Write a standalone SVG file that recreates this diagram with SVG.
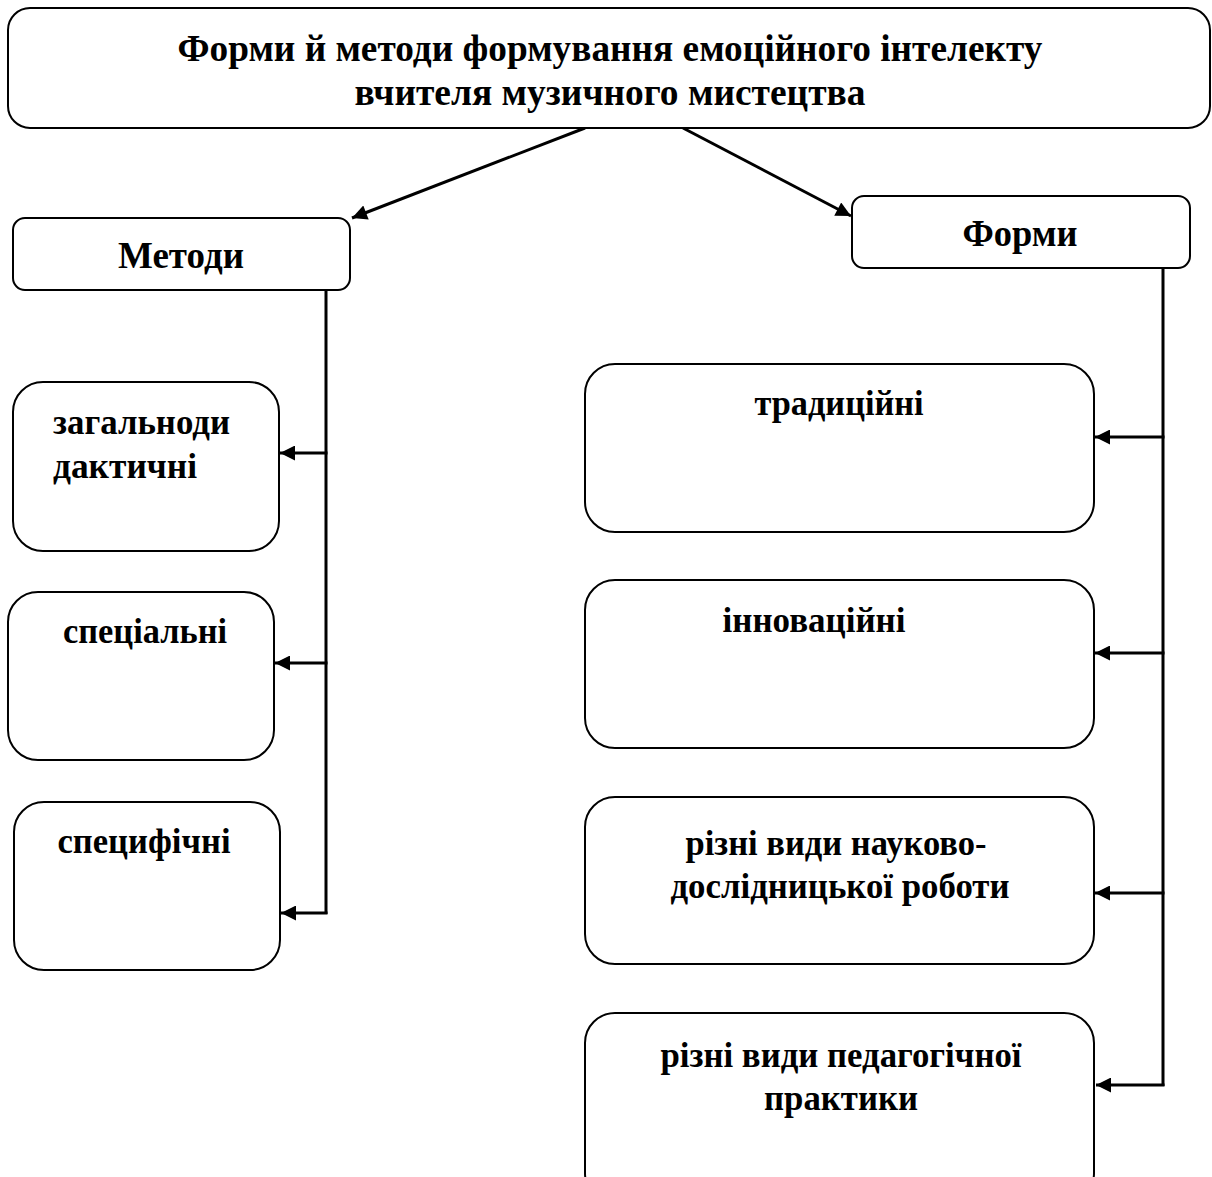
<svg xmlns="http://www.w3.org/2000/svg" width="1212" height="1177" viewBox="0 0 1212 1177">
<style>
.box{fill:#fff;stroke:#000;stroke-width:2}
.t{font-family:"Liberation Serif","Times New Roman",serif;font-weight:bold;fill:#000;text-anchor:middle}
.tl{font-family:"Liberation Serif","Times New Roman",serif;font-weight:bold;fill:#000}
.c{fill:none;stroke:#000;stroke-width:3}
</style>
<defs>
<marker id="ah" viewBox="0 0 10 10" refX="10" refY="5" markerUnits="userSpaceOnUse" markerWidth="20" markerHeight="15" orient="auto">
<path d="M0,0 L10,5 L0,10 z" fill="#000"/>
</marker>
</defs>
<rect width="1212" height="1177" fill="#fff"/>
<g id="connectors">
<line class="c" x1="585" y1="128" x2="352" y2="218" marker-end="url(#ah)"/>
<line class="c" x1="683" y1="128" x2="851" y2="216" marker-end="url(#ah)"/>
<line class="c" x1="326" y1="291" x2="326" y2="914"/>
<line class="c" x1="327.5" y1="453" x2="280" y2="453" marker-end="url(#ah)"/>
<line class="c" x1="327.5" y1="663" x2="275" y2="663" marker-end="url(#ah)"/>
<line class="c" x1="327.5" y1="913" x2="281" y2="913" marker-end="url(#ah)"/>
<line class="c" x1="1163" y1="268" x2="1163" y2="1086"/>
<line class="c" x1="1164.5" y1="437" x2="1095" y2="437" marker-end="url(#ah)"/>
<line class="c" x1="1164.5" y1="653" x2="1095" y2="653" marker-end="url(#ah)"/>
<line class="c" x1="1164.5" y1="893" x2="1095" y2="893" marker-end="url(#ah)"/>
<line class="c" x1="1164.5" y1="1085" x2="1096" y2="1085" marker-end="url(#ah)"/>
</g>
<g id="title">
<rect class="box" x="8" y="8" width="1202" height="120" rx="22"/>
<text class="t" x="610" y="61" font-size="38" textLength="865" lengthAdjust="spacingAndGlyphs">Форми й методи формування емоційного інтелекту</text>
<text class="t" x="610" y="105" font-size="38" textLength="511" lengthAdjust="spacingAndGlyphs">вчителя музичного мистецтва</text>
</g>
<g id="metody">
<rect class="box" x="13" y="218" width="337" height="72" rx="12"/>
<text class="t" x="181" y="268" font-size="38" textLength="126" lengthAdjust="spacingAndGlyphs">Методи</text>
</g>
<g id="formy">
<rect class="box" x="852" y="196" width="338" height="72" rx="12"/>
<text class="t" x="1020" y="246" font-size="38" textLength="115" lengthAdjust="spacingAndGlyphs">Форми</text>
</g>
<g id="zahalnodydaktychni">
<rect class="box" x="13" y="382" width="266" height="169" rx="30"/>
<text class="tl" x="53" y="434" font-size="36" textLength="177" lengthAdjust="spacingAndGlyphs">загальноди</text>
<text class="tl" x="53" y="478" font-size="36" textLength="144" lengthAdjust="spacingAndGlyphs">дактичні</text>
</g>
<g id="spetsialni">
<rect class="box" x="8" y="592" width="266" height="168" rx="30"/>
<text class="t" x="145" y="643" font-size="36" textLength="164" lengthAdjust="spacingAndGlyphs">спеціальні</text>
</g>
<g id="spetsyfichni">
<rect class="box" x="14" y="802" width="266" height="168" rx="30"/>
<text class="t" x="144" y="853" font-size="36" textLength="173" lengthAdjust="spacingAndGlyphs">специфічні</text>
</g>
<g id="tradytsiini">
<rect class="box" x="585" y="364" width="509" height="168" rx="30"/>
<text class="t" x="839" y="415" font-size="36" textLength="169" lengthAdjust="spacingAndGlyphs">традиційні</text>
</g>
<g id="innovatsiini">
<rect class="box" x="585" y="580" width="509" height="168" rx="30"/>
<text class="t" x="814" y="632" font-size="36" textLength="183" lengthAdjust="spacingAndGlyphs">інноваційні</text>
</g>
<g id="naukovo">
<rect class="box" x="585" y="797" width="509" height="167" rx="30"/>
<text class="t" x="836" y="855" font-size="36" textLength="301" lengthAdjust="spacingAndGlyphs">різні види науково-</text>
<text class="t" x="840" y="898" font-size="36" textLength="339" lengthAdjust="spacingAndGlyphs">дослідницької роботи</text>
</g>
<g id="praktyka">
<rect class="box" x="585" y="1013" width="509" height="190" rx="30"/>
<text class="t" x="841" y="1067" font-size="36" textLength="361" lengthAdjust="spacingAndGlyphs">різні види педагогічної</text>
<text class="t" x="841" y="1110" font-size="36" textLength="154" lengthAdjust="spacingAndGlyphs">практики</text>
</g>
</svg>
